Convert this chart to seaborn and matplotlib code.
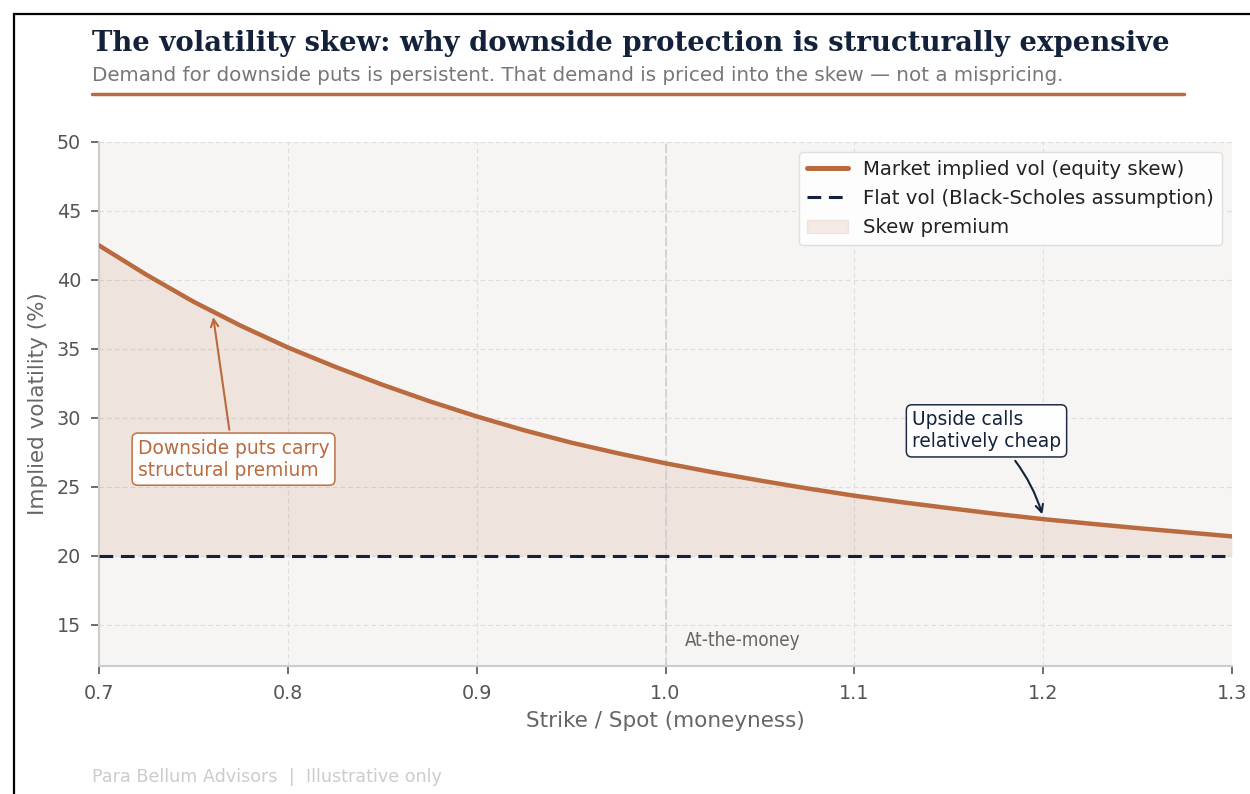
import numpy as np
import pandas as pd
import matplotlib
matplotlib.use("Agg")
import matplotlib.pyplot as plt
from matplotlib.patches import Patch, Rectangle
from matplotlib.lines import Line2D
import seaborn as sns

# Moneyness grid and market implied vol (%)
moneyness = [0.700, 0.725, 0.750, 0.775, 0.800, 0.825, 0.850, 0.875, 0.900,
             0.925, 0.950, 0.975, 1.000, 1.025, 1.050, 1.075, 1.100, 1.125,
             1.150, 1.175, 1.200, 1.225, 1.250, 1.275, 1.300]
market_vol = [42.50, 40.38, 38.42, 36.68, 35.10, 33.70, 32.40, 31.20, 30.10,
              29.10, 28.20, 27.42, 26.70, 26.05, 25.45, 24.88, 24.35, 23.88,
              23.45, 23.03, 22.65, 22.32, 22.00, 21.70, 21.40]
flat_vol = 20.0

x_ticks = [0.7, 0.8, 0.9, 1.0, 1.1, 1.2, 1.3]
y_ticks = [15, 20, 25, 30, 35, 40, 45, 50]

title = "The volatility skew: why downside protection is structurally expensive"
subtitle = ("Demand for downside puts is persistent. That demand is priced into "
            "the skew \u2014 not a mispricing.")
footer = "Para Bellum Advisors  |  Illustrative only"

COPPER = "#b96a3e"
NAVY = "#13223a"
GRAY = "#666666"

sns.set_theme(style="white")
plt.rcParams["font.family"] = ["DejaVu Sans"]

df = pd.DataFrame({"moneyness": moneyness, "vol": market_vol})
df["flat"] = flat_vol

fig = plt.figure(figsize=(12.5, 7.94), dpi=100)
fig.patch.set_facecolor("white")
ax = fig.add_axes([0.0792, 0.1612, 0.9064, 0.66])
ax.set_facecolor("#f6f5f3")

ax.fill_between(df["moneyness"], df["flat"], df["vol"], color=COPPER,
                alpha=0.12, linewidth=0, zorder=1)
sns.lineplot(data=df, x="moneyness", y="vol", ax=ax, color=COPPER,
             linewidth=3.2, zorder=4)
sns.lineplot(data=df, x="moneyness", y="flat", ax=ax, color=NAVY,
             linewidth=2.2, linestyle=(0, (4.5, 2.5)), zorder=3)

ax.axvline(1.0, color="#cfcfcf", linewidth=1.2, linestyle=(0, (5, 2)), zorder=2)

ax.set_xlim(0.7, 1.3)
ax.set_ylim(12, 50)
ax.set_xticks(x_ticks)
ax.set_xticklabels([f"{t:.1f}" for t in x_ticks])
ax.set_yticks(y_ticks)
ax.grid(True, color="#dddddd", linestyle=(0, (4, 3)), linewidth=0.8)
ax.set_axisbelow(True)

for s in ["top", "right"]:
    ax.spines[s].set_visible(False)
for s in ["left", "bottom"]:
    ax.spines[s].set_color("#cccccc")
    ax.spines[s].set_linewidth(1.5)
ax.tick_params(axis="both", which="major", labelsize=13.8, labelcolor="#555555",
               color="#555555", length=6, width=1.2, direction="out",
               bottom=True, left=True, pad=7)

ax.set_xlabel("Strike / Spot (moneyness)", fontsize=15.5, color=GRAY, labelpad=6)
ax.set_ylabel("Implied volatility (%)", fontsize=15.5, color=GRAY, labelpad=6)

ax.text(1.01, 13.85, "At-the-money", fontsize=13.5, color=GRAY,
        fontstretch="condensed", ha="left", va="center")

ax.annotate("Downside puts carry\nstructural premium",
            xy=(0.7605, 37.3), xytext=(0.7205, 27.0),
            fontsize=13.4, color=COPPER, ha="left", va="center",
            bbox=dict(boxstyle="round,pad=0.3", fc="white", ec=COPPER,
                      lw=1.1, alpha=0.95),
            arrowprops=dict(arrowstyle="->", color=COPPER, lw=1.5,
                            shrinkA=2, shrinkB=0), zorder=6)

ax.annotate("Upside calls\nrelatively cheap",
            xy=(1.1995, 23.0), xytext=(1.1305, 29.05),
            fontsize=13.4, color=NAVY, ha="left", va="center",
            bbox=dict(boxstyle="round,pad=0.3", fc="white", ec=NAVY,
                      lw=1.1, alpha=0.95),
            arrowprops=dict(arrowstyle="->", color=NAVY, lw=1.5,
                            connectionstyle="arc3,rad=-0.15",
                            shrinkA=3, shrinkB=0), zorder=6)

handles = [
    Line2D([0], [0], color=COPPER, linewidth=3.6),
    Line2D([0], [0], color=NAVY, linewidth=2.2, linestyle=(0, (4.5, 2.5))),
    Patch(facecolor=COPPER, alpha=0.12, edgecolor=COPPER),
]
labels = ["Market implied vol (equity skew)",
          "Flat vol (Black-Scholes assumption)",
          "Skew premium"]
leg = ax.legend(handles, labels, loc="upper right", fontsize=14.2,
                frameon=True, fancybox=True, facecolor="white",
                edgecolor="#dddddd", framealpha=0.9, borderpad=0.4,
                labelspacing=0.52, handlelength=2.1, handletextpad=0.75,
                borderaxespad=0.0, bbox_to_anchor=(0.9912, 0.981))
for t in leg.get_texts():
    t.set_color("#222222")

fig.text(0.0736, 0.945, title, fontsize=19.8, fontweight="bold",
         family="DejaVu Serif", color=NAVY, ha="left", va="center")
fig.text(0.0736, 0.905, subtitle, fontsize=14.3, color="#777777",
         ha="left", va="center")
fig.add_artist(Line2D([0.0736, 0.9472], [0.8816, 0.8816],
                      transform=fig.transFigure, color=COPPER, linewidth=2.5))
fig.text(0.0736, 0.021, footer, fontsize=12.6, color="#cccccc",
         ha="left", va="center")

fig.add_artist(Rectangle((0.0108, -0.5), 2.0, 0.9824 + 0.5,
                         transform=fig.transFigure, fill=False,
                         edgecolor="black", linewidth=1.6))

fig.savefig("out.png", dpi=100, facecolor="white")
